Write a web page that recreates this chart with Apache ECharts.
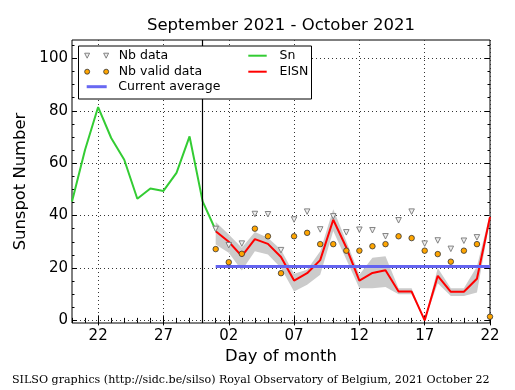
<!DOCTYPE html>
<html><head><meta charset="utf-8">
<script src="https://cdn.jsdelivr.net/npm/echarts@6/dist/echarts.min.js"></script>
<style>html,body{margin:0;padding:0;background:#fff}#c{width:515px;height:390px}</style>
</head><body><div id="c"></div>
<script>
// ---- data ----
const days = ['2021-09-20','2021-09-21','2021-09-22','2021-09-23','2021-09-24','2021-09-25','2021-09-26',
  '2021-09-27','2021-09-28','2021-09-29','2021-09-30','2021-10-01','2021-10-02','2021-10-03','2021-10-04',
  '2021-10-05','2021-10-06','2021-10-07','2021-10-08','2021-10-09','2021-10-10','2021-10-11','2021-10-12',
  '2021-10-13','2021-10-14','2021-10-15','2021-10-16','2021-10-17','2021-10-18','2021-10-19','2021-10-20',
  '2021-10-21','2021-10-22'];
const xTickLabels = ['22','27','02','07','12','17','22'];
const yTickValues = [0,20,40,60,80,100];
const yMinorTickValues = [0,5,10,15,20,25,30,35,40,45,50,55,60,65,70,75,80,85,90,95,100,105];

const snStart = '2021-09-20';
const sn = [45.4, 65.1, 81.4, 69.6, 61.3, 46.4, 50.3, 49.4, 56.3, 70.2, 45.4, 34.4];

const eisnStart = '2021-10-01';
const eisn  = [34.0, 30.0, 24.5, 31.0, 29.2, 24.2, 15.2, 18.0, 23.0, 38.4, 27.8, 15.2, 18.1, 19.1, 11.0, 11.0, 0.0, 17.0, 10.9, 10.9, 15.9, 39.5];
const eisnUpper = [37.5, 32.8, 27.7, 33.7, 31.5, 27.0, 17.8, 19.3, 26.4, 42.4, 30.2, 17.4, 23.9, 24.5, 12.3, 12.3, 0.0, 20.0, 12.3, 12.3, 20.6, 40.8];
const eisnLower = [29.0, 25.8, 19.0, 26.4, 25.1, 20.0, 11.0, 13.6, 17.4, 34.1, 23.2, 12.3, 12.3, 12.7, 10.0, 10.0, 0.0, 14.2, 9.3, 9.3, 10.6, 38.3];

const nbStart = '2021-10-01';
const nbData  = [34.9, 28.7, 29.3, 40.6, 40.5, 26.8, 38.5, 41.5, 34.7, 39.7, 33.6, 34.6, 34.4, 32.1, 38.2, 41.5, 29.3, 30.5, 27.3, 30.4, 31.7];
const nbValid = [27.2, 22.2, 25.4, 35.0, 32.1, 18.0, 32.1, 33.4, 29.1, 29.1, 26.6, 26.6, 28.3, 29.1, 32.1, 31.4, 26.6, 25.3, 22.4, 26.6, 29.1, 1.4];

const currentAverage = 20.7;
const averageFrom = '2021-10-01', averageTo = '2021-10-22';
const monthBoundary = '2021-09-30';

// ---- helpers ----
function pad(arr, start) {
  const s = days.indexOf(start);
  return days.map((d, i) => (i >= s && i - s < arr.length) ? arr[i - s] : null);
}
const bandLow = pad(eisnLower, eisnStart);
const bandRange = pad(eisnUpper.map((u, i) => u - eisnLower[i]), eisnStart);
const majorIdx = [2, 7, 12, 17, 22, 27, 32];
const isMajor = (i, v) => majorIdx.includes(i) && xTickLabels.includes(String(v).slice(8));

const FONT = 'DejaVu Sans';
const grid = { left: 72, right: 25, top: 40, bottom: 67, show: true, borderColor: '#000', borderWidth: 1, backgroundColor: 'transparent' };

function xAx(pos, major, labels) {
  return {
    type: 'category', data: days, boundaryGap: false, position: pos,
    axisLine: { show: false },
    axisTick: { show: true, inside: true, length: major ? 5 : 2.5, interval: major ? isMajor : 0, lineStyle: { color: '#000', width: 1 } },
    axisLabel: { show: labels, interval: isMajor, formatter: v => v.slice(8), margin: 6, color: '#000', fontFamily: FONT, fontSize: 15 },
    splitLine: { show: major && labels, interval: isMajor, lineStyle: { color: '#333', type: [1, 3], width: 1 } },
    name: labels ? 'Day of month' : '', nameLocation: 'middle', nameGap: 26,
    nameTextStyle: { fontFamily: FONT, fontSize: 16.4, color: '#000' }
  };
}
function yAx(pos, major, labels) {
  const vals = major ? yTickValues : yMinorTickValues;
  return {
    type: 'value', min: -1, max: 107, position: pos,
    axisLine: { show: false },
    axisTick: { show: true, inside: true, length: major ? 5 : 2.5, customValues: vals, lineStyle: { color: '#000', width: 1 } },
    axisLabel: { show: labels, customValues: yTickValues, margin: 4, color: '#000', fontFamily: FONT, fontSize: 15 },
    splitLine: { show: major && labels, lineStyle: { color: '#333', type: [1, 3], width: 1 } },
    name: labels ? 'Sunspot Number' : '', nameLocation: 'middle', nameGap: 42,
    nameTextStyle: { fontFamily: FONT, fontSize: 16.4, color: '#000' }
  };
}

const triIcon = 'path://M0,0 L5,0 L2.5,5 Z M19,0 L24,0 L21.5,5 Z';
const dotIcon = 'path://M5,2.5 A2.5,2.5 0 1 1 0,2.5 A2.5,2.5 0 1 1 5,2.5 Z M24,2.5 A2.5,2.5 0 1 1 19,2.5 A2.5,2.5 0 1 1 24,2.5 Z';
const legendText = (padLeft) => ({ fontFamily: FONT, fontSize: 12.5, lineHeight: 15, color: '#000', padding: [0, 0, 0, padLeft] });
const BLUE = '#6868f2';

const option = {
  animation: false,
  backgroundColor: '#fff',
  title: [
    { text: 'September 2021 - October 2021', left: 281, top: 17, textAlign: 'center', padding: 0,
      textStyle: { fontFamily: FONT, fontSize: 16.5, fontWeight: 'normal', color: '#000' } },
    { text: 'SILSO graphics (http://sidc.be/silso) Royal Observatory of Belgium, 2021 October 22', left: 12, top: 375, padding: 0,
      textStyle: { fontFamily: 'DejaVu Serif', fontSize: 11.1, fontWeight: 'normal', color: '#000' } }
  ],
  grid: grid,
  graphic: [{ type: 'rect', shape: { x: 78.5, y: 46, width: 233, height: 53 }, style: { fill: '#fff', stroke: '#000', lineWidth: 1 }, z: 90 }],
  legend: [
    { left: 84.2, top: 48.2, padding: 0, orient: 'vertical', itemGap: 1, itemWidth: 24, itemHeight: 5, selectedMode: false, z: 100,
      textStyle: legendText(5.1),
      data: [
        { name: 'Nb data', icon: triIcon, itemStyle: { color: '#eeeeee', borderColor: '#777', borderWidth: 0.9 } },
        { name: 'Nb valid data', icon: dotIcon, itemStyle: { color: '#ffa500', borderColor: '#333', borderWidth: 0.8 } }
      ] },
    { left: 86.7, top: 79.2, padding: 0, orient: 'vertical', itemGap: 1, itemWidth: 20, itemHeight: 3, selectedMode: false, z: 100,
      textStyle: legendText(6.6),
      data: [ { name: 'Current average', icon: 'rect', itemStyle: { color: BLUE, borderWidth: 0 } } ] },
    { left: 248.3, top: 48.2, padding: 0, orient: 'vertical', itemGap: 1, itemWidth: 18.4, itemHeight: 2, selectedMode: false, z: 100,
      textStyle: legendText(7.8),
      data: [
        { name: 'Sn', icon: 'rect', itemStyle: { color: '#33cc33', borderWidth: 0 } },
        { name: 'EISN', icon: 'rect', itemStyle: { color: '#ff0000', borderWidth: 0 } }
      ] }
  ],
  xAxis: [xAx('bottom', true, true), xAx('bottom', false, false), xAx('top', true, false), xAx('top', false, false)],
  yAxis: [yAx('left', true, true), yAx('left', false, false), yAx('right', true, false), yAx('right', false, false)],
  series: [
    { name: 'bandLow', type: 'line', stack: 'band', data: bandLow, symbol: 'none', lineStyle: { width: 0, opacity: 0 }, silent: true, z: 1 },
    { name: 'bandRange', type: 'line', stack: 'band', data: bandRange, symbol: 'none', lineStyle: { width: 0, opacity: 0 },
      areaStyle: { color: '#cbcbcb', opacity: 1 }, silent: true, z: 1 },
    { name: 'Current average', type: 'line', data: [], color: BLUE, z: 2,
      markLine: { silent: true, symbol: ['none', 'none'], label: { show: false },
        lineStyle: { color: '#6464f0', width: 3, type: 'solid', opacity: 1 },
        data: [[{ coord: [averageFrom, currentAverage] }, { coord: [averageTo, currentAverage] }]] } },
    { name: 'Sn', type: 'line', data: pad(sn, snStart), symbol: 'none', color: '#33cc33', lineStyle: { color: '#33cc33', width: 2 }, z: 3,
      markLine: { silent: true, symbol: ['none', 'none'], label: { show: false },
        lineStyle: { color: '#000', width: 1.2, type: 'solid' }, data: [{ xAxis: monthBoundary }] } },
    { name: 'EISN', type: 'line', data: pad(eisn, eisnStart), symbol: 'none', color: '#ff0000', lineStyle: { color: '#ff0000', width: 2 }, z: 4 },
    { name: 'Nb data', type: 'scatter', data: pad(nbData, nbStart), symbol: 'triangle', symbolRotate: 180, symbolSize: 5.5, z: 5,
      itemStyle: { color: '#eeeeee', borderColor: '#777', borderWidth: 0.9, opacity: 1 } },
    { name: 'Nb valid data', type: 'scatter', data: pad(nbValid, nbStart), symbol: 'circle', symbolSize: 5.5, z: 6,
      itemStyle: { color: '#ffa500', borderColor: '#333', borderWidth: 0.8, opacity: 1 } }
  ]
};
echarts.init(document.getElementById('c'), null, { renderer: 'canvas' }).setOption(option);
</script>
</body></html>
